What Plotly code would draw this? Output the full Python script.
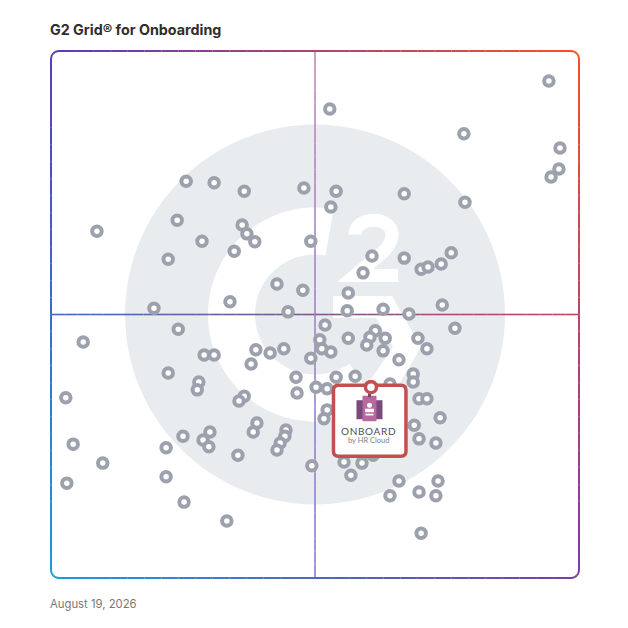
import numpy as np
import plotly.graph_objects as go

# ---------------- data (x = satisfaction, y = market presence, 0-100) ----------------
product_x = [52.8, 94.3, 78.2, 96.4, 96.2, 94.7, 54.0, 53.0, 66.9, 78.4,
             49.2, 60.8, 66.9, 59.1, 70.1, 71.4, 73.9, 75.8, 56.3, 56.1,
             62.9, 67.8, 74.1, 25.6, 30.9, 36.6, 47.9, 8.7, 23.9, 36.2,
             37.1, 38.6, 28.6, 34.7, 22.2, 42.8, 47.7, 33.9, 19.5, 44.9,
             24.1, 51.9, 76.5, 50.9, 51.3, 53.0, 56.3, 61.4, 60.4, 59.8,
             63.3, 62.9, 65.9, 69.5, 71.2, 49.2, 29.0, 30.9, 38.8, 41.5,
             44.1, 37.9, 22.2, 28.0, 27.7, 46.4, 54.0, 57.6, 68.6, 68.6,
             50.2, 52.3, 46.6, 64.2, 69.7, 71.2, 36.6, 35.6, 73.7, 68.8,
             52.3, 51.7, 25.0, 30.1, 28.8, 29.9, 39.0, 38.3, 44.5, 44.3,
             43.4, 42.8, 21.8, 35.4, 69.7, 72.9, 55.5, 58.9, 61.0, 49.4,
             56.8, 65.9, 73.3, 21.8, 64.2, 69.7, 72.9, 25.2, 6.1, 2.8,
             4.2, 9.8, 3.0, 33.3, 70.1]
product_y = [89.0, 94.3, 84.3, 81.6, 77.6, 76.1, 73.4, 70.4, 72.9, 71.3,
             63.9, 61.1, 60.7, 57.9, 58.6, 59.0, 59.6, 61.7, 54.1, 50.7,
             51.0, 50.1, 51.8, 75.3, 75.0, 73.4, 74.0, 65.8, 67.9, 67.0,
             65.3, 63.8, 63.9, 62.0, 60.5, 55.8, 54.6, 52.4, 51.2, 50.5,
             47.2, 48.0, 47.4, 45.2, 43.5, 42.9, 45.5, 46.9, 45.7, 44.2,
             45.5, 43.1, 41.4, 45.5, 43.5, 41.7, 42.3, 42.3, 43.3, 42.7,
             43.5, 40.6, 38.9, 37.2, 35.7, 38.1, 38.1, 38.3, 38.7, 37.2,
             36.2, 35.9, 35.1, 36.8, 34.0, 34.0, 34.5, 33.6, 30.4, 29.0,
             31.9, 30.2, 26.9, 27.7, 26.2, 24.9, 29.4, 27.7, 28.1, 26.9,
             25.6, 24.3, 24.7, 23.3, 26.4, 25.6, 22.0, 21.8, 23.3, 21.3,
             19.5, 18.4, 18.4, 19.2, 15.6, 16.3, 15.6, 14.4, 44.8, 34.2,
             25.4, 21.8, 18.0, 10.8, 8.5]

highlight_x = [60.6]
highlight_y = [36.2]
highlight_name = "ONBOARD"
highlight_sub = "by HR Cloud"

title_text = "G2 Grid® for Onboarding"
date_text = "August 19, 2026"

x_range = [0, 100]
y_range = [0, 100]
x_mid = 50
y_mid = 50

# ---------------- layout geometry ----------------
OFF = 8                      # page body margin of the html page
W = H = 620
ML, MR, MT, MB = 43, 49, 43, 50
PW = W - ML - MR             # 528
PH = H - MT - MB             # 527


def to_paper(px, py):
    """page pixel -> paper coords"""
    fx, fy = px - OFF, py - OFF
    return (fx - ML) / PW, (H - MB - fy) / PH


def hex2rgb(h):
    h = h.lstrip('#')
    return np.array([int(h[i:i + 2], 16) for i in (0, 2, 4)], dtype=float)


def rgb2hex(c):
    c = np.clip(np.round(c), 0, 255).astype(int)
    return '#%02x%02x%02x' % tuple(c)


TL = hex2rgb('#5b3cb4')
TR = hex2rgb('#f1532b')
BL = hex2rgb('#1e9ad8')
BR = hex2rgb('#7a3ca8')


def border_color(u, v):
    c = TL * (1 - u) * (1 - v) + TR * u * (1 - v) + BL * (1 - u) * v + BR * u * v
    return rgb2hex(c)


shapes = []

# ---- watermark (G2 logo) ----
WM_GRAY = '#e9ecef'
shapes.append(dict(type='circle', xref='x', yref='y', xsizemode='pixel', ysizemode='pixel',
                   xanchor=x_mid, yanchor=y_mid, x0=-190, x1=190, y0=-190, y1=190,
                   fillcolor=WM_GRAY, line=dict(width=0), layer='below'))

# G ring (annular sector)
a = np.radians(np.linspace(80, 305, 80))
ro, ri = 107, 60
pts = [(ro * np.cos(t), ro * np.sin(t)) for t in a] + [(ri * np.cos(t), ri * np.sin(t)) for t in a[::-1]]
ring_path = 'M ' + ' L '.join('%.2f,%.2f' % p for p in pts) + ' Z'
shapes.append(dict(type='path', xref='x', yref='y', xsizemode='pixel', ysizemode='pixel',
                   xanchor=x_mid, yanchor=y_mid, path=ring_path,
                   fillcolor='white', line=dict(width=0), layer='below'))

# chevron
chev = [(18, 18.5), (77, 18.5), (106, -32.5), (73, -88.5), (47, -77.5), (78, -32.5), (61, -3.5), (18, -3.5)]
chev_path = 'M ' + ' L '.join('%.1f,%.1f' % p for p in chev) + ' Z'
shapes.append(dict(type='path', xref='x', yref='y', xsizemode='pixel', ysizemode='pixel',
                   xanchor=x_mid, yanchor=y_mid, path=chev_path,
                   fillcolor='white', line=dict(width=0), layer='below'))

# the "2"
two_path = 'M 40,80 C 40,99 77,99 77,80 C 77,66 62,58 40,39 L 83,39'
shapes.append(dict(type='path', xref='x', yref='y', xsizemode='pixel', ysizemode='pixel',
                   xanchor=x_mid, yanchor=y_mid, path=two_path,
                   fillcolor='rgba(0,0,0,0)', line=dict(width=13, color='white'), layer='below'))

# ---- quadrant lines (gradient) ----
h_left, h_right = hex2rgb('#3a6cc2'), hex2rgb('#c8435c')
v_top, v_bot = hex2rgb('#bf88b6'), hex2rgb('#8480cf')
N = 40
for i in range(N):
    t0, t1 = i / N, (i + 1) / N
    tm = (t0 + t1) / 2
    xa = x_range[0] + (x_range[1] - x_range[0]) * t0
    xb = x_range[0] + (x_range[1] - x_range[0]) * t1
    shapes.append(dict(type='line', xref='x', yref='y', x0=xa, x1=xb, y0=y_mid, y1=y_mid,
                       line=dict(color=rgb2hex(h_left * (1 - tm) + h_right * tm), width=1.6), layer='below'))
    ya = y_range[1] - (y_range[1] - y_range[0]) * t0
    yb = y_range[1] - (y_range[1] - y_range[0]) * t1
    shapes.append(dict(type='line', xref='x', yref='y', x0=x_mid, x1=x_mid, y0=ya, y1=yb,
                       line=dict(color=rgb2hex(v_top * (1 - tm) + v_bot * tm), width=1.6), layer='below'))

# ---- gradient rounded border (page pixel coords) ----
x0p, y0p = ML + OFF, MT + OFF
x1p, y1p = x0p + PW, y0p + PH
r = 8
perim = []
ne, na = 30, 6
for i in range(ne + 1):
    perim.append((x0p + r + (x1p - x0p - 2 * r) * i / ne, y0p))
for i in range(1, na + 1):
    t = np.radians(-90 + 90 * i / na)
    perim.append((x1p - r + r * np.cos(t), y0p + r + r * np.sin(t)))
for i in range(1, ne + 1):
    perim.append((x1p, y0p + r + (y1p - y0p - 2 * r) * i / ne))
for i in range(1, na + 1):
    t = np.radians(0 + 90 * i / na)
    perim.append((x1p - r + r * np.cos(t), y1p - r + r * np.sin(t)))
for i in range(1, ne + 1):
    perim.append((x1p - r - (x1p - x0p - 2 * r) * i / ne, y1p))
for i in range(1, na + 1):
    t = np.radians(90 + 90 * i / na)
    perim.append((x0p + r + r * np.cos(t), y1p - r + r * np.sin(t)))
for i in range(1, ne + 1):
    perim.append((x0p, y1p - r - (y1p - y0p - 2 * r) * i / ne))
for i in range(1, na + 1):
    t = np.radians(180 + 90 * i / na)
    perim.append((x0p + r + r * np.cos(t), y0p + r + r * np.sin(t)))
for p, q in zip(perim[:-1], perim[1:]):
    mx, my = (p[0] + q[0]) / 2, (p[1] + q[1]) / 2
    u, v = (mx - x0p) / PW, (my - y0p) / PH
    a0, b0 = to_paper(*p)
    a1, b1 = to_paper(*q)
    shapes.append(dict(type='line', xref='paper', yref='paper', x0=a0, y0=b0, x1=a1, y1=b1,
                       line=dict(color=border_color(u, v), width=2), layer='above'))

# ---- highlighted product callout (anchored to its data point, pixel offsets) ----
hx, hy = highlight_x[0], highlight_y[0]
RED = '#c2504e'


def anchored(**kw):
    d = dict(xref='x', yref='y', xsizemode='pixel', ysizemode='pixel', xanchor=hx, yanchor=hy, layer='above')
    d.update(kw)
    return d


bx0, bx1, by0, by1, br = -37.5, 35, 2, -69, 5
box_path = ('M %g,%g L %g,%g Q %g,%g %g,%g L %g,%g Q %g,%g %g,%g L %g,%g Q %g,%g %g,%g L %g,%g Q %g,%g %g,%g Z' % (
    bx0 + br, by0, bx1 - br, by0, bx1, by0, bx1, by0 - br,
    bx1, by1 + br, bx1, by1, bx1 - br, by1,
    bx0 + br, by1, bx0, by1, bx0, by1 + br,
    bx0, by0 - br, bx0, by0, bx0 + br, by0))
shapes.append(anchored(type='path', path=box_path, fillcolor='white', line=dict(color=RED, width=3.5)))

# icon
shapes.append(anchored(type='rect', x0=-14.5, x1=11.5, y0=-13, y1=-32, fillcolor='#7b4a7d', line=dict(width=0)))
shapes.append(anchored(type='rect', x0=-8.5, x1=5.5, y0=-8.5, y1=-34, fillcolor='#b8679f', line=dict(width=0)))
shapes.append(anchored(type='rect', x0=-3, x1=0, y0=-6.5, y1=-10, fillcolor='#6d4a70', line=dict(width=0)))
shapes.append(anchored(type='circle', x0=-4, x1=1, y0=-15.5, y1=-20.5, fillcolor='white', line=dict(width=0)))
shapes.append(anchored(type='rect', x0=-6, x1=3, y0=-21.5, y1=-25, fillcolor='white', line=dict(width=0)))
shapes.append(anchored(type='rect', x0=-5.5, x1=2.5, y0=-26.5, y1=-28.2, fillcolor='white', line=dict(width=0)))
# red marker ring on top
shapes.append(anchored(type='circle', x0=-5.5, x1=5.5, y0=-5.5, y1=5.5, fillcolor='white', line=dict(color=RED, width=3.5)))

fig = go.Figure()
fig.add_trace(go.Scatter(
    x=product_x, y=product_y, mode='markers',
    marker=dict(size=9.5, color='white', line=dict(color='#9ca1ad', width=4)),
    hoverinfo='skip', showlegend=False))
fig.add_trace(go.Scatter(
    x=highlight_x, y=highlight_y, mode='markers',
    marker=dict(size=11, color='white', line=dict(color=RED, width=3.5)),
    hoverinfo='skip', showlegend=False))

tx, ty = to_paper(51, 29)
dx, dy = to_paper(51, 604)
spaced_name = '\u200a'.join(highlight_name)
annotations = [
    dict(text=title_text, xref='paper', yref='paper', x=tx, y=ty, xshift=-3,
         xanchor='left', yanchor='middle', showarrow=False,
         font=dict(family='Inter', size=14.3, color='#2e2e2e', weight=700)),
    dict(text=date_text, xref='paper', yref='paper', x=dx, y=dy, xshift=-3,
         xanchor='left', yanchor='middle', showarrow=False,
         font=dict(family='Inter', size=11.3, color='#777777')),
    dict(text=spaced_name, xref='x', yref='y', x=hx, y=hy, yshift=-44, xshift=-2,
         xanchor='center', yanchor='middle', showarrow=False,
         font=dict(family='Lato', size=10, color='#4b4d57')),
    dict(text=highlight_sub, xref='x', yref='y', x=hx, y=hy, yshift=-53, xshift=-2,
         xanchor='center', yanchor='middle', showarrow=False,
         font=dict(family='Lato', size=7.5, color='#7d7f88')),
]

fig.update_layout(
    width=W, height=H,
    margin=dict(l=ML, r=MR, t=MT, b=MB),
    paper_bgcolor='white', plot_bgcolor='white',
    xaxis=dict(range=x_range, visible=False, fixedrange=True),
    yaxis=dict(range=y_range, visible=False, fixedrange=True),
    shapes=shapes, annotations=annotations,
    showlegend=False,
)

fig.write_html('out.html')
